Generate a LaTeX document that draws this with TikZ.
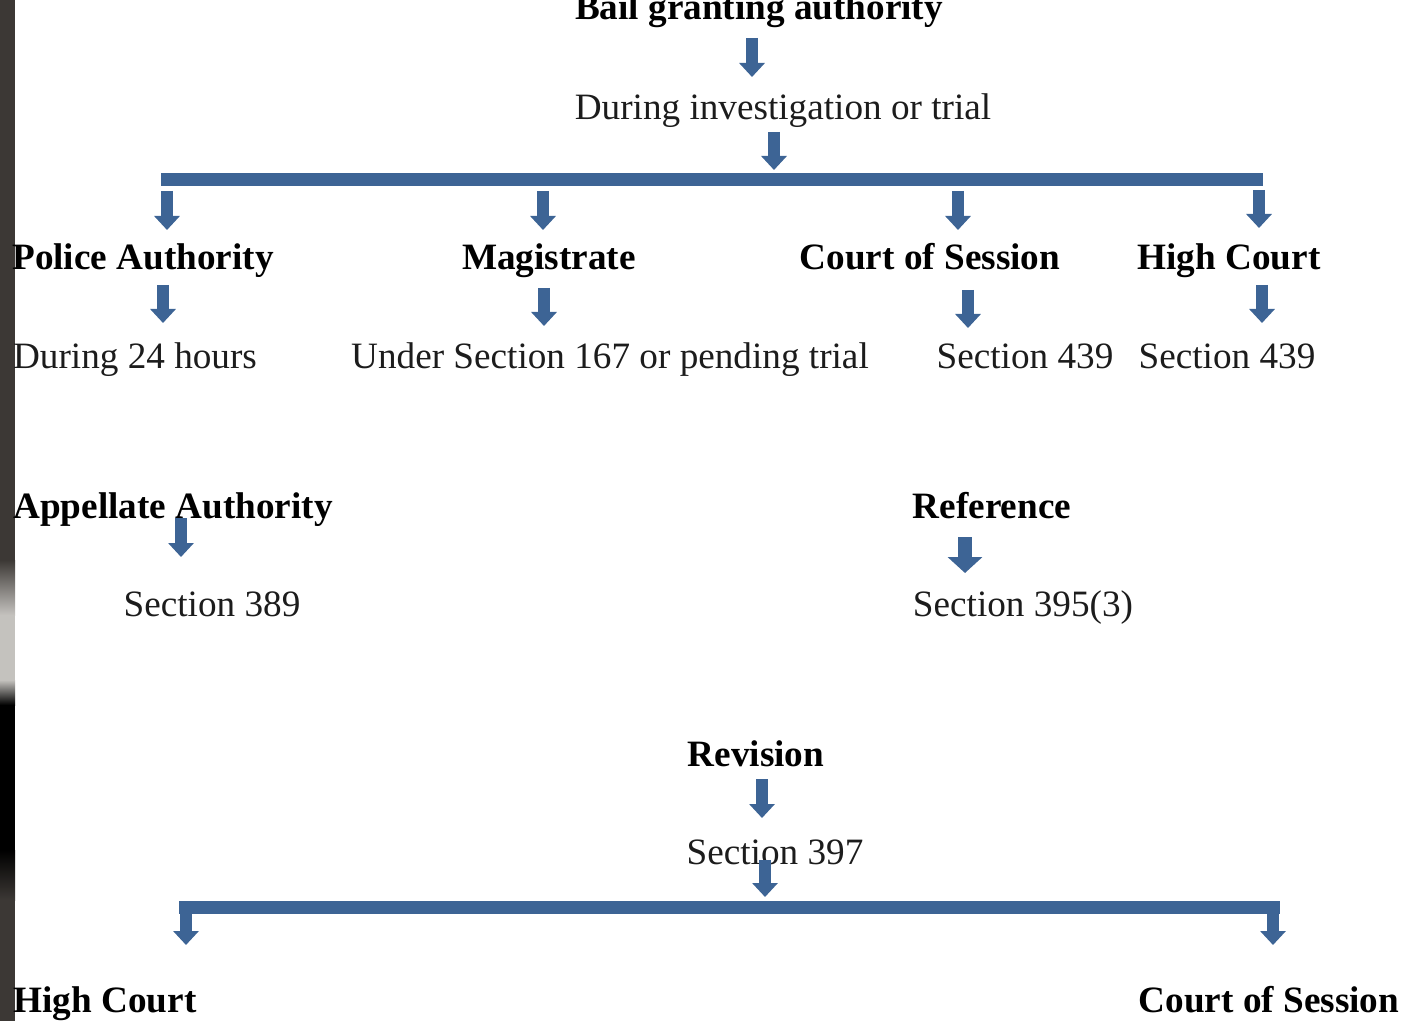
\documentclass[tikz,border=0pt]{standalone}
\usepackage{fontspec}
\setmainfont{Liberation Serif}
\usetikzlibrary{arrows.meta,positioning}
\definecolor{barblue}{RGB}{61,100,149}
\definecolor{stripgray}{RGB}{60,56,53}
\definecolor{stripligh}{RGB}{196,194,190}
\definecolor{inkgray}{RGB}{28,28,28}

\begin{document}
\begin{tikzpicture}[x=0.5pt,y=-0.5pt]
        \tikzset{head/.style={anchor=base,inner sep=0pt,text=black,font=\fontsize{18.6}{22}\selectfont\bfseries},
        txt/.style={anchor=base,inner sep=0pt,text=inkgray,font=\fontsize{18.6}{22}\selectfont},
        darr/.style={draw=barblue,line width=6pt,-{Triangle[width=12.5pt,length=7pt]}},
        wdarr/.style={draw=barblue,line width=7pt,-{Triangle[width=17pt,length=8pt]}},
        bar/.style={draw=barblue,line width=6.5pt}
        }
        \useasboundingbox (0,0) rectangle (1406,1021);
%% left strip
        \fill[stripgray] (0,0) rectangle (15,1021);
        \shade[top color=stripgray,bottom color=stripligh] (0,560) rectangle (15,615);
        \fill[stripligh] (0,615) rectangle (15,680);
        \shade[top color=stripligh,bottom color=black] (0,680) rectangle (15,705);
        \fill[black] (0,705) rectangle (15,850);
        \shade[top color=black,bottom color=stripgray] (0,850) rectangle (15,900);
%% texts
        \node [head] (bail) at (759,20) {Bail granting authority};
        \node [txt] (during) at (783,120) {During investigation or trial};
        \node [head] (police) at (143,270) {Police Authority};
        \node [head] (magis) at (549,270) {Magistrate};
        \node [head] (session) at (930,270) {Court of Session};
        \node [head] (high) at (1229,270) {High Court};
        \node [txt] (hours) at (135,368) {During 24 hours};
        \node [txt] (sec167) at (610,368) {Under Section 167 or pending trial};
        \node [txt] (secA) at (1025,368) {Section 439};
        \node [txt] (secB) at (1227,368) {Section 439};
        \node [head] (appellate) at (173,518) {Appellate Authority};
        \node [txt] (sec389) at (212,616) {Section 389};
        \node [head] (reference) at (992,518) {Reference};
        \node [txt] (sec395) at (1023,616) {Section 395(3)};
        \node [head] (revision) at (756,766) {Revision};
        \node [txt] (sec397) at (775,864) {Section 397};
        \node [head] (highct) at (105,1012) {High Court};
        \node [head] (courtsess) at (1269,1012) {Court of Session};
%% bars
        \coordinate (topL) at (161,180);
        \coordinate (topR) at (1263,180);
        \coordinate (botL) at (179,907);
        \coordinate (botR) at (1280,907);
        \draw[bar] (topL) -- (topR);
        \draw[bar] (botL) -- (botR);
%% arrows
        \foreach \n/\x/\ya/\yb in {1/752/38/77, 2/774/132/170,
            3/167/191/230, 4/543/191/230, 5/958/191/230, 6/1259/190/228,
            7/163/285/323, 8/544/288/326, 9/968/290/328, 10/1262/285/323,
            11/181/518/557, 13/762/779/818, 14/765/860/897,
            15/186/911/945, 16/1273/911/945}
        {
            \coordinate (s\n) at (\x,\ya);
            \coordinate (e\n) at (\x,\yb);
            \draw[darr] (s\n) -- (e\n);
        }
        \coordinate (s12) at (965,537);
        \coordinate (e12) at (965,573);
        \draw[wdarr] (s12) -- (e12);
    \end{tikzpicture}
\end{document}
